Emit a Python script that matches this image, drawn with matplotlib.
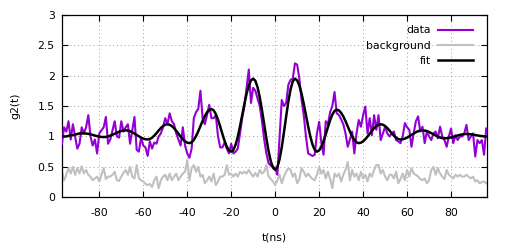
import matplotlib
matplotlib.use("Agg")
import matplotlib.pyplot as plt
import numpy as np

# time axis (ns), one bin per ns
t_ns = np.arange(-97, 97)

data_g2 = [
    0.88, 1.15, 1.08, 1.25, 0.95, 1.20, 1.00, 0.80, 0.88, 1.15,
    1.05, 1.15, 1.35, 1.00, 0.85, 0.95, 0.72, 1.05, 1.10, 1.15,
    1.32, 0.88, 0.95, 1.10, 1.25, 1.00, 0.98, 1.25, 1.08, 1.15,
    1.20, 0.88, 1.10, 1.32, 0.78, 0.75, 0.98, 0.85, 0.82, 0.68,
    0.92, 0.80, 0.90, 0.88, 1.00, 1.05, 1.15, 1.30, 1.20, 1.38,
    1.25, 1.20, 1.05, 0.95, 0.85, 1.15, 0.85, 0.72, 0.65, 0.80,
    1.30, 1.40, 1.45, 1.75, 1.30, 1.20, 1.35, 1.52, 1.30, 1.30,
    1.35, 1.00, 0.82, 0.82, 0.90, 0.80, 0.72, 0.88, 0.72, 0.75,
    0.80, 1.05, 1.30, 1.50, 1.80, 2.10, 1.55, 1.80, 1.75, 1.62,
    1.50, 1.25, 0.95, 0.72, 0.56, 0.52, 0.50, 0.48, 0.37, 1.00,
    1.60, 1.50, 1.55, 1.85, 1.93, 1.95, 2.20, 2.18, 1.95, 1.60,
    1.35, 1.00, 0.72, 0.70, 0.68, 0.70, 1.05, 1.24, 0.90, 0.70,
    1.25, 1.20, 1.40, 1.50, 1.73, 1.38, 1.35, 1.28, 1.20, 1.05,
    0.83, 0.95, 1.08, 0.72, 1.05, 1.27, 1.16, 1.35, 1.49, 1.05,
    1.30, 1.02, 1.35, 1.11, 1.35, 0.94, 1.05, 1.16, 1.05, 1.00,
    1.05, 1.08, 0.94, 0.92, 0.89, 1.00, 1.22, 1.15, 1.11, 0.83,
    1.05, 1.25, 1.33, 1.08, 1.16, 0.89, 1.08, 1.00, 0.94, 1.05,
    1.08, 0.97, 1.16, 1.00, 0.94, 0.83, 1.00, 1.13, 0.89, 1.02,
    0.94, 1.00, 1.00, 1.05, 1.19, 0.94, 1.00, 1.05, 0.67, 0.94,
    0.89, 0.94, 0.70, 1.13,
]

background_g2 = [
    0.42, 0.28, 0.37, 0.48, 0.39, 0.50, 0.37, 0.48, 0.39, 0.51,
    0.39, 0.45, 0.37, 0.34, 0.28, 0.31, 0.34, 0.26, 0.37, 0.48,
    0.30, 0.34, 0.34, 0.37, 0.42, 0.28, 0.27, 0.34, 0.40, 0.45,
    0.37, 0.50, 0.34, 0.31, 0.53, 0.31, 0.28, 0.26, 0.22, 0.20,
    0.22, 0.17, 0.28, 0.34, 0.15, 0.28, 0.34, 0.37, 0.28, 0.39,
    0.28, 0.34, 0.39, 0.28, 0.34, 0.39, 0.42, 0.61, 0.28, 0.48,
    0.53, 0.42, 0.50, 0.34, 0.37, 0.23, 0.28, 0.34, 0.26, 0.39,
    0.20, 0.26, 0.34, 0.34, 0.37, 0.53, 0.37, 0.39, 0.34, 0.39,
    0.34, 0.42, 0.39, 0.42, 0.39, 0.45, 0.39, 0.34, 0.40, 0.34,
    0.45, 0.39, 0.42, 0.53, 0.34, 0.30, 0.26, 0.20, 0.28, 0.37,
    0.23, 0.34, 0.42, 0.48, 0.45, 0.34, 0.39, 0.23, 0.30, 0.48,
    0.42, 0.34, 0.39, 0.34, 0.30, 0.28, 0.37, 0.50, 0.39, 0.45,
    0.31, 0.42, 0.30, 0.15, 0.39, 0.34, 0.39, 0.26, 0.37, 0.45,
    0.58, 0.28, 0.45, 0.34, 0.39, 0.28, 0.42, 0.31, 0.37, 0.26,
    0.39, 0.34, 0.45, 0.53, 0.53, 0.39, 0.45, 0.34, 0.28, 0.37,
    0.37, 0.31, 0.42, 0.23, 0.30, 0.39, 0.28, 0.45, 0.34, 0.48,
    0.39, 0.37, 0.34, 0.30, 0.28, 0.31, 0.23, 0.28, 0.45, 0.50,
    0.37, 0.48, 0.39, 0.34, 0.30, 0.45, 0.37, 0.34, 0.31, 0.37,
    0.34, 0.37, 0.34, 0.34, 0.37, 0.34, 0.31, 0.34, 0.26, 0.28,
    0.23, 0.25, 0.26, 0.23,
]

fit_g2 = [
    1.00, 1.00, 1.00, 1.01, 1.02, 1.02, 1.03, 1.04, 1.05, 1.05,
    1.05, 1.048, 1.043, 1.035, 1.025, 1.015, 1.005, 0.997, 0.992, 0.99,
    0.993, 1.00, 1.013, 1.028, 1.045, 1.062, 1.077, 1.089, 1.097, 1.10,
    1.096, 1.086, 1.069, 1.048, 1.025, 1.002, 0.981, 0.964, 0.954, 0.95,
    0.958, 0.979, 1.013, 1.053, 1.097, 1.138, 1.171, 1.193, 1.20, 1.192,
    1.170, 1.136, 1.093, 1.045, 0.997, 0.954, 0.920, 0.898, 0.89, 0.904,
    0.943, 1.005, 1.083, 1.17, 1.257, 1.335, 1.397, 1.436, 1.45, 1.429,
    1.368, 1.275, 1.161, 1.039, 0.925, 0.832, 0.771, 0.75, 0.779, 0.865,
    0.997, 1.165, 1.35, 1.535, 1.703, 1.835, 1.921, 1.95, 1.913, 1.807,
    1.641, 1.432, 1.2, 0.968, 0.759, 0.593, 0.487, 0.45, 0.495, 0.626,
    0.825, 1.07, 1.33, 1.575, 1.774, 1.905, 1.95, 1.921, 1.835, 1.703,
    1.535, 1.35, 1.165, 0.997, 0.865, 0.779, 0.75, 0.771, 0.831, 0.923,
    1.035, 1.155, 1.268, 1.359, 1.419, 1.44, 1.427, 1.387, 1.327, 1.25,
    1.165, 1.08, 1.003, 0.943, 0.903, 0.89, 0.898, 0.920, 0.954, 0.997,
    1.045, 1.093, 1.136, 1.170, 1.192, 1.20, 1.193, 1.171, 1.138, 1.097,
    1.053, 1.013, 0.979, 0.958, 0.95, 0.954, 0.964, 0.981, 1.002, 1.025,
    1.048, 1.069, 1.086, 1.096, 1.10, 1.097, 1.088, 1.073, 1.055, 1.035,
    1.015, 0.997, 0.982, 0.973, 0.97, 0.972, 0.977, 0.984, 0.994, 1.005,
    1.016, 1.026, 1.033, 1.038, 1.04, 1.039, 1.035, 1.03, 1.023, 1.017,
    1.01, 1.005, 1.001, 1.00,
]

x_ticks = [-80, -60, -40, -20, 0, 20, 40, 60, 80]
y_ticks = [0, 0.5, 1, 1.5, 2, 2.5, 3]
y_tick_labels = ["0", "0.5", "1", "1.5", "2", "2.5", "3"]

plt.rcParams["font.family"] = "DejaVu Sans"
fs = 7.8

fig = plt.figure(figsize=(5.15, 2.48), dpi=100)
ax = fig.add_axes([0.1198, 0.2044, 0.8252, 0.7363])

ax.plot(t_ns, data_g2, color="#9400d3", lw=1.5, label="data", zorder=3)
ax.plot(t_ns, background_g2, color="#c0c0c0", lw=1.5, label="background", zorder=2)
ax.plot(t_ns, fit_g2, color="black", lw=1.8, label="fit", zorder=4)

ax.set_xlim(-97.1, 96.2)
ax.set_ylim(0, 3)
ax.set_xticks(x_ticks)
ax.set_xticklabels([str(v) for v in x_ticks], fontsize=fs)
ax.set_yticks(y_ticks)
ax.set_yticklabels(y_tick_labels, fontsize=fs)
ax.tick_params(direction="in", length=4, width=0.8, top=True, right=True, colors="black")
ax.tick_params(axis="x", pad=8)
ax.tick_params(axis="y", pad=5)
ax.grid(True, color="#a0a0a0", linestyle=(0, (1, 3)), lw=0.7)
for s in ax.spines.values():
    s.set_linewidth(0.9)

ax.set_xlabel("t(ns)", fontsize=fs, labelpad=10)
ax.set_ylabel("g2(t)", fontsize=fs, labelpad=12)

ax.legend(loc="upper right", bbox_to_anchor=(0.9685, 0.942), frameon=False,
          markerfirst=False, fontsize=fs, handlelength=3.3, handletextpad=0.65,
          labelspacing=0.5, borderpad=0, borderaxespad=0)

fig.savefig("out.png", dpi=100)
